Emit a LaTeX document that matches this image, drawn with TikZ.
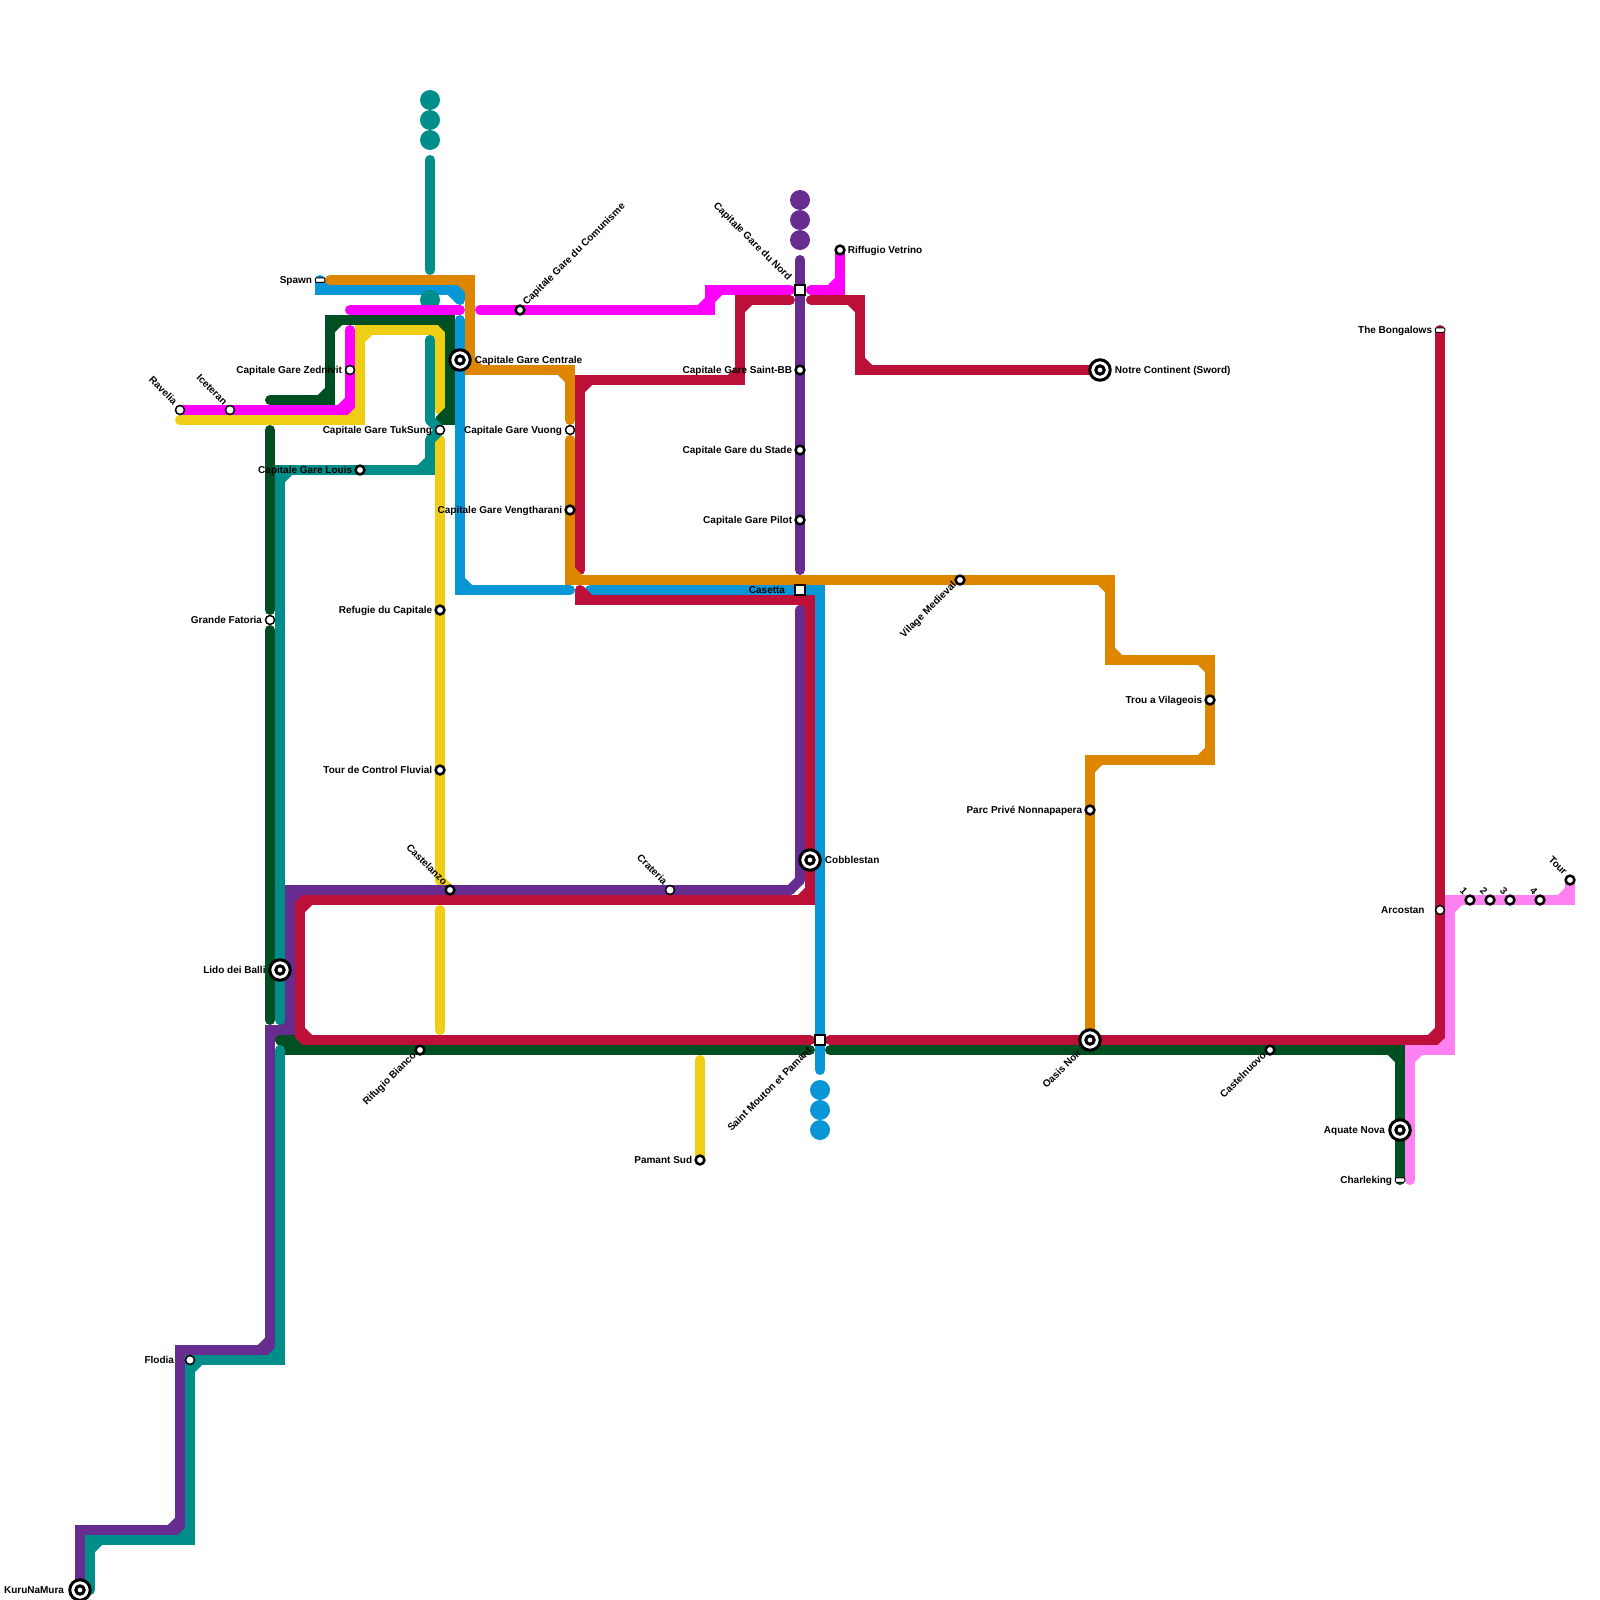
\documentclass[tikz,border=0pt]{standalone}
\usepackage{fontspec}
\setmainfont{Liberation Sans}
\usetikzlibrary{positioning,backgrounds,calc}
\definecolor{LineTeal}{HTML}{008E8A}
\definecolor{LineForest}{HTML}{004F23}
\definecolor{LinePurple}{HTML}{662C90}
\definecolor{LineMagenta}{HTML}{FF00FF}
\definecolor{LineYellow}{HTML}{F0CE15}
\definecolor{LineBlue}{HTML}{0896D7}
\definecolor{LineOrange}{HTML}{DF8600}
\definecolor{LineRed}{HTML}{BD1038}
\definecolor{LinePink}{HTML}{FF80F0}
% a line through a list of points, with the inside of each bend cut off
\newcommand{\metroline}[2]{%
  \gdef\metropath{}%
  \foreach \p [count=\i, remember=\q as \r (initially {}), remember=\p as \q (initially {})] in {#2}{%
    \ifnum\i=1 \xdef\metropath{\p}\else \xdef\metropath{\metropath -- \p}\fi
    \ifnum\i>2
      \edef\metrocut{\noexpand\draw[trackcut,draw=#1] ($\q!10pt!\r$) -- ($\q!10pt!\p$);}\metrocut
    \fi
  }%
  \edef\metrodraw{\noexpand\draw[track,draw=#1] \metropath;}\metrodraw
}
\begin{document}
\begin{tikzpicture}[
  x=1pt, y=-1pt,
  track/.style={line width=10pt, line cap=round, line join=miter},
  trackcut/.style={line width=10pt, line cap=butt},
  stopthin/.style={circle, draw=black, fill=white, line width=1.5pt, inner sep=0pt, minimum size=9pt},
  stopthick/.style={circle, draw=black, fill=white, line width=2.5pt, inner sep=0pt, minimum size=8.8pt},
  hub/.style={circle, draw=black, fill=white, line width=3pt, inner sep=0pt, minimum size=20.5pt,
    path picture={\draw[line width=3pt] (path picture bounding box.center) circle (4.2pt);}},
  gate/.style={rectangle, draw=black, fill=white, line width=2pt, inner sep=0pt, minimum size=9.5pt},
  bar/.style={rectangle, rounded corners=1pt, draw=black, fill=white, line width=1pt, inner sep=0pt, minimum width=9.5pt, minimum height=4.5pt},
  dot/.style={circle, fill=#1, inner sep=0pt, minimum size=20pt},
  lab/.style={inner sep=0pt, font=\fontsize{10}{12}\selectfont\bfseries, text height=6.2pt, text depth=0pt},
  labdown/.style={lab, rotate=-45, anchor=east},
  labup/.style={lab, rotate=45, anchor=east},
  labupr/.style={lab, rotate=45, anchor=west}
]
\useasboundingbox (0,0) rectangle (1600,1600);

% west side
\node[stopthin]  (ravelia)  at (180,410) {};
\node[stopthin]  (iceteran) at (230,410) {};
\node[stopthin]  (zednivit) at (350,370) {};
\node[stopthin]  (tuksung)  at (440,430) {};
\node[stopthick] (louis)    at (360,470) {};
\node[bar]       (spawn)    at (320,280) {};
\node[stopthin]  (fatoria)  at (270,620) {};
\node[hub]       (lido)     at (280,970) {};
\node[stopthin]  (flodia)   at (190,1360) {};
\node[hub]       (kuru)     at (80,1590) {};
\node[stopthick] (refugie)  at (440,610) {};
\node[stopthick] (fluvial)  at (440,770) {};
\node[stopthick] (castelanzo) at (450,890) {};
\node[stopthick] (bianco)   at (420,1050) {};

% centre
\node[hub]       (centrale) at (460,360) {};
\node[stopthick] (comunisme) at (520,310) {};
\node[stopthin]  (vuong)    at (570,430) {};
\node[stopthick] (vengtharani) at (570,510) {};
\node[gate]      (nord)     at (800,290) {};
\node[stopthick] (riffugio) at (840,250) {};
\node[stopthick] (saintbb)  at (800,370) {};
\node[stopthick] (stade)    at (800,450) {};
\node[stopthick] (pilot)    at (800,520) {};
\node[gate]      (casetta)  at (800,590) {};
\node[hub]       (cobblestan) at (810,860) {};
\node[stopthin]  (crateria) at (670,890) {};
\node[gate]      (mouton)   at (820,1040) {};
\node[stopthick] (pamant)   at (700,1160) {};

% east side
\node[hub]       (notre)    at (1100,370) {};
\node[stopthick] (village)  at (960,580) {};
\node[stopthick] (trou)     at (1210,700) {};
\node[stopthick] (parc)     at (1090,810) {};
\node[hub]       (oasis)    at (1090,1040) {};
\node[stopthick] (castelnuovo) at (1270,1050) {};
\node[hub]       (aquate)   at (1400,1130) {};
\node[bar]       (charleking) at (1400,1180) {};
\node[bar]       (bongalows) at (1440,330) {};
\node[stopthin]  (arcostan) at (1440,910) {};
\node[stopthick] (one)      at (1470,900) {};
\node[stopthick] (two)      at (1490,900) {};
\node[stopthick] (three)    at (1510,900) {};
\node[stopthick] (four)     at (1540,900) {};
\node[stopthick] (tour)     at (1570,880) {};

% labels
\node[lab, left=2.5pt of spawn]       (spawnL)    {Spawn};
\node[lab, left=2.5pt of zednivit]    (zednivitL) {Capitale Gare Zednivit};
\node[lab, left=2.5pt of tuksung]     (tuksungL)  {Capitale Gare TukSung};
\node[lab, left=2pt of louis]         (louisL)    {Capitale Gare Louis};
\node[lab, left=2.5pt of fatoria]     (fatoriaL)  {Grande Fatoria};
\node[lab, left=2.5pt of lido]        (lidoL)     {Lido dei Balli};
\node[lab, left=10.5pt of flodia]     (flodiaL)   {Flodia};
\node[lab, left=4pt of kuru]          (kuruL)     {KuruNaMura};
\node[lab, left=2pt of refugie]       (refugieL)  {Refugie du Capitale};
\node[lab, left=2pt of fluvial]       (fluvialL)  {Tour de Control Fluvial};
\node[lab, right=3pt of centrale]     (centraleL) {Capitale Gare Centrale};
\node[lab, left=2.5pt of vuong]       (vuongL)    {Capitale Gare Vuong};
\node[lab, left=2pt of vengtharani]   (vengtharaniL) {Capitale Gare Vengtharani};
\node[lab, right=2pt of riffugio]     (riffugioL) {Riffugio Vetrino};
\node[lab, left=2pt of saintbb]       (saintbbL)  {Capitale Gare Saint-BB};
\node[lab, left=2pt of stade]         (stadeL)    {Capitale Gare du Stade};
\node[lab, left=2pt of pilot]         (pilotL)    {Capitale Gare Pilot};
\node[lab, left=9pt of casetta]       (casettaL)  {Casetta};
\node[lab, right=3pt of cobblestan]   (cobblestanL) {Cobblestan};
\node[lab, left=2pt of pamant]        (pamantL)   {Pamant Sud};
\node[lab, right=3pt of notre]        (notreL)    {Notre Continent (Sword)};
\node[lab, left=2pt of trou]          (trouL)     {Trou a Vilageois};
\node[lab, left=2pt of parc]          (parcL)     {Parc Privé Nonnapapera};
\node[lab, left=3pt of aquate]        (aquateL)   {Aquate Nova};
\node[lab, left=2.5pt of charleking]  (charlekingL) {Charleking};
\node[lab, left=2.5pt of bongalows]   (bongalowsL) {The Bongalows};
\node[lab, left=10pt of arcostan]     (arcostanL) {Arcostan};
\node[labdown] (raveliaL)    at ([shift={(-4.5,-6.5)}]ravelia.center) {Ravelia};
\node[labdown] (iceteranL)   at ([shift={(-4.5,-6.5)}]iceteran.center) {Iceteran};
\node[labdown] (castelanzoL) at ([shift={(-4.5,-6.5)}]castelanzo.center) {Castelanzo};
\node[labdown] (crateriaL)   at ([shift={(-4.5,-6.5)}]crateria.center) {Crateria};
\node[labdown] (nordL)       at ([shift={(-10,-11)}]nord.center) {Capitale Gare du Nord};
\node[labdown] (oneL)        at ([shift={(-4.5,-6.5)}]one.center) {1};
\node[labdown] (twoL)        at ([shift={(-4.5,-6.5)}]two.center) {2};
\node[labdown] (threeL)      at ([shift={(-4.5,-6.5)}]three.center) {3};
\node[labdown] (fourL)       at ([shift={(-4.5,-6.5)}]four.center) {4};
\node[labdown] (tourL)       at ([shift={(-4.5,-6.5)}]tour.center) {Tour};
\node[labup]   (biancoL)     at ([shift={(-5.4,3.6)}]bianco.center) {Rifugio Bianco};
\node[labup]   (moutonL)     at ([shift={(-10,9)}]mouton.center) {Saint Mouton et Pamant};
\node[labup]   (oasisL)      at ([shift={(-10,11)}]oasis.center) {Oasis Noir};
\node[labup]   (villageL)    at ([shift={(-5.4,3.6)}]village.center) {Vilage Medieval};
\node[labup]   (castelnuovoL) at ([shift={(-5.4,3.6)}]castelnuovo.center) {Castelnuovo};
\node[labupr]  (comunismeL)  at ([shift={(4.6,-6.4)}]comunisme.center) {Capitale Gare du Comunisme};

% line ends
\node[dot=LineTeal]   (tealDotA)   at (430,100) {};
\node[dot=LineTeal]   (tealDotB)   at (430,120) {};
\node[dot=LineTeal]   (tealDotC)   at (430,140) {};
\node[dot=LinePurple] (purpleDotA) at (800,200) {};
\node[dot=LinePurple] (purpleDotB) at (800,220) {};
\node[dot=LinePurple] (purpleDotC) at (800,240) {};
\node[dot=LineBlue]   (blueDotA)   at (820,1090) {};
\node[dot=LineBlue]   (blueDotB)   at (820,1110) {};
\node[dot=LineBlue]   (blueDotC)   at (820,1130) {};

\coordinate (magentaA) at (350,330);
\coordinate (magentaB) at (350,310);
\coordinate (magentaC) at (460,310);
\coordinate (magentaD) at (480,310);
\coordinate (magentaE) at (790,290);
\coordinate (magentaF) at (811,290);
\coordinate (yellowA) at (180,420);
\coordinate (yellowB) at (440,410);
\coordinate (yellowC) at (440,440);
\coordinate (yellowD) at (440,880);
\coordinate (yellowE) at (440,910);
\coordinate (yellowF) at (440,1030);
\coordinate (yellowG) at (700,1060);
\coordinate (purpleA) at (800,260);
\coordinate (purpleB) at (800,570);
\coordinate (purpleC) at (800,610);
\coordinate (purpleD) at (800,880);
\coordinate (purpleE) at (790,890);
\coordinate (blueA) at (460,300);
\coordinate (blueB) at (460,320);
\coordinate (blueC) at (570,590);
\coordinate (blueD) at (590,590);
\coordinate (blueE) at (820,1070);
\coordinate (redA) at (790,300);
\coordinate (redB) at (580,570);
\coordinate (redC) at (811,300);
\coordinate (redD) at (580,590);
\coordinate (redE) at (810,1040);
\coordinate (redF) at (830,1040);
\coordinate (forestA) at (270,400);
\coordinate (forestB) at (440,420);
\coordinate (forestC) at (270,430);
\coordinate (forestD) at (270,610);
\coordinate (forestE) at (270,630);
\coordinate (forestF) at (270,1020);
\coordinate (forestG) at (280,1040);
\coordinate (forestH) at (810,1050);
\coordinate (forestI) at (830,1050);
\coordinate (tealA) at (430,160);
\coordinate (tealB) at (430,270);
\coordinate (tealC) at (430,340);
\coordinate (tealD) at (430,420);
\coordinate (tealE) at (430,440);
\coordinate (tealF) at (280,1020);
\coordinate (tealG) at (280,1050);
\coordinate (tealH) at (90,1590);
\coordinate (orangeA) at (330,280);
\coordinate (orangeB) at (570,420);
\coordinate (orangeC) at (570,440);
\coordinate (pinkA) at (1410,1180);

\begin{scope}[on background layer]
% magenta, west part
\metroline{LineMagenta}{(ravelia.center),(iceteran.center),(350,410),(zednivit.center),(magentaA)}
% yellow
\metroline{LineYellow}{(yellowA),(360,420),(360,330),(440,330),(yellowB)}
\metroline{LineYellow}{(yellowC),(refugie.center),(fluvial.center),(yellowD)}
\metroline{LineYellow}{(yellowD),(castelanzo.center)}
\metroline{LineYellow}{(yellowE),(yellowF)}
\metroline{LineYellow}{(yellowG),(pamant.center)}
% blue
\metroline{LineBlue}{(spawn.center),(320,290),(460,290),(blueA)}
\metroline{LineBlue}{(blueB),(centrale.center),(460,590),(blueC)}
\metroline{LineBlue}{(blueD),(casetta.center),(820,590),(mouton.center),(blueE)}
% red
\metroline{LineRed}{(redA),(740,300),(740,380),(580,380),(redB)}
\metroline{LineRed}{(redC),(860,300),(860,370),(notre.center)}
\metroline{LineRed}{(redD),(580,600),(810,600),(cobblestan.center),(810,900),(300,900),(300,1040),(redE)}
\metroline{LineRed}{(redF),(oasis.center),(1440,1040),(arcostan.center),(bongalows.center)}
% purple
\metroline{LinePurple}{(purpleA),(nord.center),(saintbb.center),(stade.center),(pilot.center),(purpleB)}
\metroline{LinePurple}{(purpleC),(purpleD)}
\metroline{LinePurple}{(purpleD),(purpleE)}
\metroline{LinePurple}{(purpleE),(crateria.center),(castelanzo.center),(290,890),(290,1030),(270,1030),(270,1350),(180,1350),(180,1530),(80,1530),(kuru.center)}
% dark green
\metroline{LineForest}{(forestA),(330,400),(330,320),(450,320),(450,420),(forestB)}
\metroline{LineForest}{(forestC),(forestD)}
\metroline{LineForest}{(forestE),(forestF)}
\metroline{LineForest}{(forestG),(290,1040),(290,1050),(bianco.center),(forestH)}
\metroline{LineForest}{(forestI),(castelnuovo.center),(1400,1050),(aquate.center),(charleking.center)}
% teal
\metroline{LineTeal}{(tealA),(tealB)}
\metroline{LineTeal}{(tealC),(tealD)}
\metroline{LineTeal}{(tealD),(tuksung.center)}
\metroline{LineTeal}{(tuksung.center),(tealE)}
\metroline{LineTeal}{(tealE),(430,470),(louis.center),(280,470),(lido.center),(tealF)}
\metroline{LineTeal}{(tealG),(280,1360),(flodia.center),(190,1540),(90,1540),(tealH)}
\node[dot=LineTeal] (tealDotD) at (430,300) {};
% orange
\metroline{LineOrange}{(orangeA),(470,280),(470,370),(570,370),(orangeB)}
\metroline{LineOrange}{(orangeC),(vengtharani.center),(570,580),(village.center),(1110,580),(1110,660),(1210,660),(trou.center),(1210,760),(1090,760),(parc.center),(oasis.center)}
% pink
\metroline{LinePink}{(pinkA),(1410,1050),(1450,1050),(1450,900),(one.center),(two.center),(three.center),(four.center),(1570,900),(tour.center)}
% magenta, east part
\metroline{LineMagenta}{(magentaB),(magentaC)}
\metroline{LineMagenta}{(magentaD),(comunisme.center),(710,310),(710,290),(magentaE)}
\metroline{LineMagenta}{(magentaF),(840,290),(riffugio.center)}
\end{scope}
\end{tikzpicture}
\end{document}
